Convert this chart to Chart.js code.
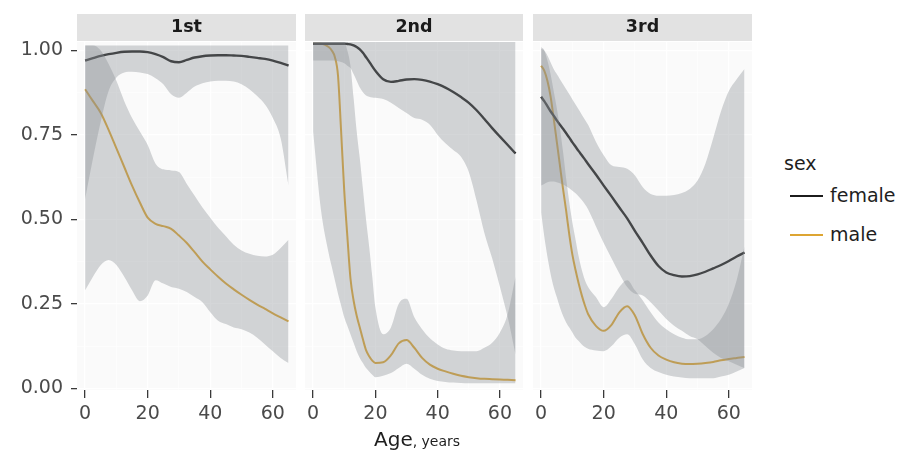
<!DOCTYPE html>
<html>
<head>
<meta charset="utf-8">
<script src="https://cdn.jsdelivr.net/npm/chart.js@4/dist/chart.umd.min.js"></script>
<style>
  html, body { margin: 0; padding: 0; background: #fff; }
  #wrap { position: relative; width: 900px; height: 459px; overflow: hidden;
          font-family: "DejaVu Sans", "Liberation Sans", sans-serif; color: #1a1a1a; }
  #wrap canvas { position: absolute; top: 0; }
  #xtitle { position: absolute; left: 374px; top: 427px; white-space: nowrap; color: #1e1e1e; }
  #xtitle .main { font-size: 20px; }
  #xtitle .unit { font-size: 14px; }
  #legend { position: absolute; left: 784px; top: 150px; font-size: 19px; color: #1e1e1e; }
  #legend .ttl { height: 26px; line-height: 26px; }
  #legend .row { position: relative; height: 39px; line-height: 39px; }
  #legend .key { position: absolute; left: 6px; top: 19px; width: 33px; height: 2.4px; }
  #legend .lab { position: absolute; left: 46px; top: 0; }
</style>
</head>
<body>
<div id="wrap">
  <canvas id="p1" width="300" height="430" style="left:0px"></canvas>
  <canvas id="p2" width="227" height="430" style="left:300px"></canvas>
  <canvas id="p3" width="228" height="430" style="left:528px"></canvas>
  <div id="xtitle"><span class="main">Age</span><span class="unit">, years</span></div>
  <div id="legend"></div>
</div>
<script>
// Facet labels (passenger class), series names and axis ticks
const STRIPS = ['1st', '2nd', '3rd'];
const SEX = ['female', 'male'];
const SEX_COLORS = ['#1c1c1c', '#dda532'];
const X_MAJOR = [0, 20, 40, 60];
const X_MINOR = [10, 30, 50];
const Y_MAJOR = [0, 0.25, 0.5, 0.75, 1];
const Y_MINOR = [0.125, 0.375, 0.625, 0.875];

// ---- 1st class: smoothed survival and its confidence band ----
const AGE_1ST = [0, 2.5, 5, 7.5, 10, 12.5, 15, 17.5, 20, 22.5, 25, 27.5, 30, 32.5, 35, 37.5, 40, 42.5, 45, 47.5, 50, 52.5, 55, 57.5, 60, 62.5, 65];
const FEMALE_1ST    = [.970, .977, .984, .989, .993, .996, .997, .997, .995, .989, .980, .968, .965, .972, .979, .983, .985, .986, .986, .985, .984, .981, .978, .975, .970, .963, .955];
const FEMALE_1ST_LO = [.56, .68, .79, .88, .92, .935, .937, .935, .93, .918, .90, .87, .86, .875, .893, .903, .908, .91, .91, .908, .90, .885, .865, .84, .80, .74, .60];
const FEMALE_1ST_HI = [1.015, 1.015, 1.015, 1.015, 1.015, 1.015, 1.015, 1.015, 1.015, 1.015, 1.015, 1.015, 1.015, 1.015, 1.015, 1.015, 1.015, 1.015, 1.015, 1.015, 1.015, 1.015, 1.015, 1.015, 1.015, 1.015, 1.015];
const MALE_1ST      = [.885, .85, .815, .765, .71, .655, .60, .55, .505, .487, .48, .472, .452, .43, .403, .375, .352, .33, .31, .293, .277, .262, .248, .235, .222, .21, .198];
const MALE_1ST_LO   = [.29, .33, .365, .38, .365, .33, .29, .258, .275, .32, .31, .30, .295, .285, .27, .255, .225, .20, .19, .18, .175, .165, .15, .13, .11, .09, .075];
const MALE_1ST_HI   = [1.015, 1.015, 1.0, .96, .91, .85, .80, .76, .72, .665, .648, .645, .64, .605, .57, .535, .505, .475, .45, .425, .408, .398, .392, .39, .395, .415, .44];

// ---- 2nd class ----
const AGE_2ND = [0, 2.5, 5, 6, 7, 8, 9, 10, 11, 12, 13, 14, 15, 16, 17, 18, 19, 20, 22.5, 25, 27.5, 30, 32.5, 35, 37.5, 40, 42.5, 45, 47.5, 50, 52.5, 55, 57.5, 60, 62.5, 65];
const FEMALE_2ND    = [1.02, 1.02, 1.02, 1.02, 1.02, 1.02, 1.02, 1.02, 1.019, 1.018, 1.015, 1.01, 1.003, .993, .98, .967, .953, .94, .915, .907, .91, .914, .915, .913, .908, .90, .89, .877, .862, .845, .823, .797, .77, .745, .72, .695];
const FEMALE_2ND_LO = [.97, .97, .97, .97, .97, .968, .966, .962, .955, .948, .93, .91, .89, .876, .867, .863, .861, .86, .856, .845, .83, .815, .80, .795, .78, .75, .725, .705, .685, .64, .555, .46, .385, .30, .21, .10];
const FEMALE_2ND_HI = [1.025, 1.025, 1.025, 1.025, 1.025, 1.025, 1.025, 1.025, 1.025, 1.025, 1.025, 1.025, 1.025, 1.025, 1.025, 1.025, 1.025, 1.025, 1.025, 1.025, 1.025, 1.025, 1.025, 1.025, 1.025, 1.025, 1.025, 1.025, 1.025, 1.025, 1.025, 1.025, 1.025, 1.025, 1.025, 1.025];
const MALE_2ND      = [1.02, 1.02, 1.01, 1.0, .98, .925, .76, .585, .45, .325, .26, .215, .18, .145, .113, .095, .082, .075, .077, .098, .133, .143, .12, .09, .07, .058, .05, .043, .037, .033, .03, .028, .027, .026, .025, .024];
const MALE_2ND_LO   = [.76, .53, .40, .36, .32, .28, .245, .21, .185, .16, .135, .11, .09, .075, .06, .05, .04, .033, .037, .045, .06, .073, .058, .04, .028, .022, .019, .017, .016, .015, .015, .015, .015, .015, .015, .015];
const MALE_2ND_HI   = [1.025, 1.025, 1.025, 1.025, 1.025, 1.025, 1.025, 1.025, 1.0, .955, .86, .76, .68, .59, .50, .42, .33, .24, .16, .18, .25, .265, .21, .175, .148, .13, .117, .112, .11, .11, .11, .12, .135, .165, .22, .33];

// ---- 3rd class ----
const AGE_3RD = [0, 1, 2, 3, 4, 5, 6, 7, 8, 9, 10, 11, 12, 13, 14, 15, 17.5, 20, 22.5, 25, 27.5, 30, 32.5, 35, 37.5, 40, 42.5, 45, 47.5, 50, 52.5, 55, 57.5, 60, 62.5, 65];
const FEMALE_3RD    = [.863, .85, .835, .82, .807, .793, .78, .768, .755, .742, .728, .715, .702, .69, .677, .664, .633, .60, .568, .535, .503, .465, .43, .393, .362, .343, .335, .331, .332, .337, .345, .355, .365, .377, .39, .402];
const FEMALE_3RD_LO = [.60, .605, .61, .612, .612, .61, .607, .603, .598, .592, .585, .577, .568, .557, .545, .53, .48, .43, .385, .34, .30, .28, .275, .255, .23, .205, .185, .17, .155, .145, .125, .105, .09, .08, .07, .06];
const FEMALE_3RD_HI = [1.005, 1.0, .985, .965, .945, .93, .915, .90, .885, .87, .855, .84, .825, .81, .795, .78, .73, .69, .66, .655, .65, .63, .595, .575, .57, .57, .572, .578, .59, .615, .665, .74, .82, .88, .915, .945];
const MALE_3RD      = [.955, .94, .91, .865, .80, .73, .66, .59, .525, .455, .395, .35, .31, .275, .245, .22, .185, .17, .188, .225, .243, .215, .16, .12, .097, .085, .077, .073, .072, .073, .075, .078, .083, .087, .09, .093];
const MALE_3RD_LO   = [.52, .45, .39, .34, .30, .27, .24, .215, .195, .18, .165, .15, .14, .13, .122, .117, .112, .11, .125, .15, .16, .13, .085, .06, .048, .04, .035, .032, .03, .03, .03, .03, .035, .04, .05, .06];
const MALE_3RD_HI   = [1.01, 1.0, .97, .93, .88, .83, .77, .70, .62, .55, .49, .44, .39, .35, .32, .30, .27, .24, .265, .30, .32, .29, .26, .225, .195, .175, .16, .15, .145, .145, .155, .175, .205, .25, .32, .42];

const PANELS = [
  { id: 'p1', age: AGE_1ST, fit: [FEMALE_1ST, MALE_1ST], lo: [FEMALE_1ST_LO, MALE_1ST_LO], hi: [FEMALE_1ST_HI, MALE_1ST_HI] },
  { id: 'p2', age: AGE_2ND, fit: [FEMALE_2ND, MALE_2ND], lo: [FEMALE_2ND_LO, MALE_2ND_LO], hi: [FEMALE_2ND_HI, MALE_2ND_HI] },
  { id: 'p3', age: AGE_3RD, fit: [FEMALE_3RD, MALE_3RD], lo: [FEMALE_3RD_LO, MALE_3RD_LO], hi: [FEMALE_3RD_HI, MALE_3RD_HI] }
];

const FONT = '"DejaVu Sans", "Liberation Sans", sans-serif';
const RIBBON = 'rgba(138, 143, 149, 0.37)';
const TICK_TEXT = '#4a4a4a';

function pts(ages, vals) { return ages.map((a, i) => ({ x: a, y: vals[i] })); }
function isMajor(list, v) { return list.some(m => Math.abs(m - v) < 1e-9); }

// panel background and facet strip
const panelDecor = {
  id: 'panelDecor',
  beforeDraw(chart) {
    const { ctx, chartArea: a } = chart;
    ctx.save();
    ctx.fillStyle = '#e2e2e2';
    ctx.fillRect(a.left, 14, a.right - a.left, 27);
    ctx.fillStyle = '#fafafa';
    ctx.fillRect(a.left, a.top, a.right - a.left, a.bottom - a.top);
    ctx.restore();
  }
};

PANELS.forEach((p, i) => {
  const first = i === 0;
  const datasets = [];
  // confidence bands: upper edge filled down to the lower edge
  SEX.forEach((s, k) => {
    datasets.push({ label: s + ' upper', data: pts(p.age, p.hi[k]), borderWidth: 0, pointRadius: 0,
                    backgroundColor: RIBBON, fill: '+1', cubicInterpolationMode: 'monotone', clip: 0 });
    datasets.push({ label: s + ' lower', data: pts(p.age, p.lo[k]), borderWidth: 0, pointRadius: 0,
                    fill: false, cubicInterpolationMode: 'monotone', clip: 0 });
  });
  // smoothed survival lines
  SEX.forEach((s, k) => {
    datasets.push({ label: s, data: pts(p.age, p.fit[k]), borderColor: SEX_COLORS[k],
                    borderWidth: k === 0 ? 2.4 : 2.0, pointRadius: 0, fill: false,
                    cubicInterpolationMode: 'monotone', clip: 0 });
  });

  new Chart(document.getElementById(p.id), {
    type: 'line',
    data: { datasets },
    plugins: [panelDecor],
    options: {
      responsive: false,
      animation: false,
      events: [],
      layout: { padding: { left: first ? 0 : 5, right: 4, top: 0, bottom: 0 } },
      plugins: {
        legend: { display: false },
        tooltip: { enabled: false },
        title: {
          display: true, text: STRIPS[i], fullSize: false, color: '#1a1a1a',
          font: { family: FONT, size: 17.5, weight: 'bold', lineHeight: 1.2 },
          padding: { top: 16.5, bottom: 4.5 }
        }
      },
      scales: {
        x: {
          type: 'linear', min: -2.6, max: 67.4,
          afterBuildTicks: s => { s.ticks = X_MAJOR.concat(X_MINOR).sort((a, b) => a - b).map(v => ({ value: v })); },
          afterFit: s => { s.height = 40; },
          border: { display: false },
          grid: {
            color: '#ffffff',
            lineWidth: c => isMajor(X_MAJOR, c.tick.value) ? 1.3 : 0.6,
            tickColor: c => isMajor(X_MAJOR, c.tick.value) ? '#3a3a3a' : 'rgba(0,0,0,0)',
            tickWidth: 1.3, tickLength: 8, drawTicks: true
          },
          ticks: {
            autoSkip: false, maxRotation: 0, padding: 5, color: TICK_TEXT,
            font: { family: FONT, size: 19 },
            callback: v => isMajor(X_MAJOR, v) ? String(v) : ''
          }
        },
        y: {
          type: 'linear', min: -0.005, max: 1.025,
          afterBuildTicks: s => { s.ticks = Y_MAJOR.concat(Y_MINOR).sort((a, b) => a - b).map(v => ({ value: v })); },
          afterFit: s => { s.width = first ? 77 : 0; },
          border: { display: false },
          grid: {
            color: '#ffffff',
            lineWidth: c => isMajor(Y_MAJOR, c.tick.value) ? 1.3 : 0.6,
            tickColor: c => isMajor(Y_MAJOR, c.tick.value) ? '#3a3a3a' : 'rgba(0,0,0,0)',
            tickWidth: 1.3, tickLength: first ? 6 : 0, drawTicks: first
          },
          ticks: {
            display: first, autoSkip: false, padding: 8, color: TICK_TEXT,
            font: { family: FONT, size: 19 },
            callback: v => isMajor(Y_MAJOR, v) ? v.toFixed(2) : ''
          }
        }
      }
    }
  });
});

// legend built from the series names and colours
const legend = document.getElementById('legend');
legend.innerHTML = '<div class="ttl">sex</div>' + SEX.map((s, k) =>
  '<div class="row"><div class="key" style="background:' + SEX_COLORS[k] + '"></div><div class="lab">' + s + '</div></div>'
).join('');
</script>
</body>
</html>
